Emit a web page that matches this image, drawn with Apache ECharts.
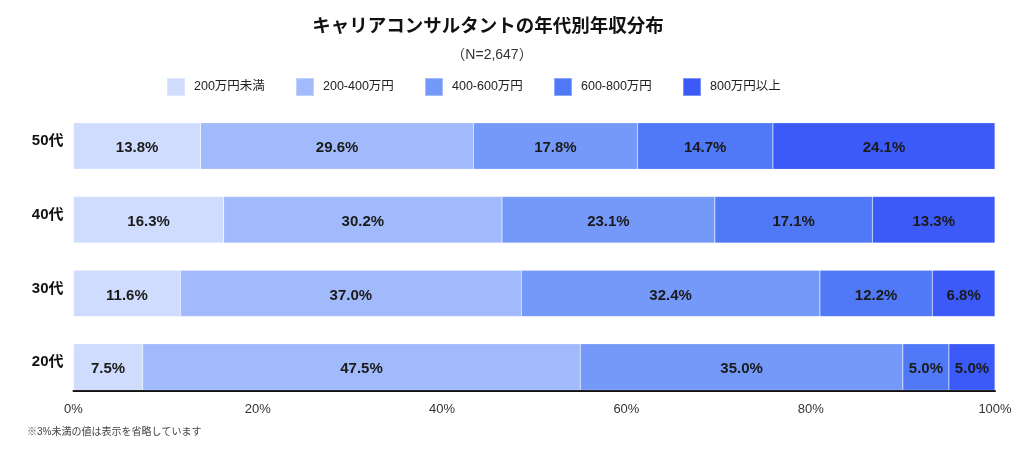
<!DOCTYPE html>
<html>
<head>
<meta charset="utf-8">
<style>
html,body{margin:0;padding:0;background:#fff;}
#chart{width:1024px;height:449px;}
</style>
<script src="https://cdn.jsdelivr.net/npm/echarts@6/dist/echarts.min.js"></script>
</head>
<body>
<div id="chart"></div>
<script>
const categories = ['50代', '40代', '30代', '20代'];
const seriesNames = ['200万円未満', '200-400万円', '400-600万円', '600-800万円', '800万円以上'];
const under200 = [13.8, 16.3, 11.6, 7.5];
const r200to400 = [29.6, 30.2, 37.0, 47.5];
const r400to600 = [17.8, 23.1, 32.4, 35.0];
const r600to800 = [14.7, 17.1, 12.2, 5.0];
const over800 = [24.1, 13.3, 6.8, 5.0];
const xTicks = [0, 20, 40, 60, 80, 100];
const colors = ['#d0dcfd', '#a1bafb', '#7599f9', '#5079f7', '#3b5af8'];

const FONT = '"Liberation Sans", "Noto Sans CJK JP", sans-serif';
const values = [under200, r200to400, r400to600, r600to800, over800];

const chart = echarts.init(document.getElementById('chart'), null, {renderer: 'canvas'});
chart.setOption({
  animation: false,
  textStyle: {fontFamily: FONT},
  title: [
    {
      text: 'キャリアコンサルタントの年代別年収分布',
      left: 483, top: 13, textAlign: 'center',
      textStyle: {fontFamily: FONT, fontSize: 18.5, fontWeight: 'bold', color: '#111'}
    },
    {
      text: '（N=2,647）',
      left: 487, top: 43, textAlign: 'center',
      textStyle: {fontFamily: FONT, fontSize: 14, fontWeight: 'normal', color: '#333'}
    },
    {
      text: '※3%未満の値は表示を省略しています',
      left: 22, top: 422,
      textStyle: {fontFamily: FONT, fontSize: 10, fontWeight: 'normal', color: '#444'}
    }
  ],
  legend: seriesNames.map((name, i) => ({
    left: 161 + i * 129, top: 72,
    icon: 'rect', itemWidth: 18, itemHeight: 18,
    textStyle: {fontFamily: FONT, fontSize: 12.5, color: '#222', padding: [0, 0, 0, 4]},
    data: [name]
  })),
  grid: {left: 73.5, right: 29, top: 109.2, bottom: 45.1},
  xAxis: {
    type: 'value', min: xTicks[0], max: xTicks[xTicks.length - 1], interval: 20,
    offset: -13.4,
    axisLine: {show: true, lineStyle: {color: '#111', width: 2}},
    axisTick: {show: false},
    splitLine: {show: false},
    axisLabel: {formatter: '{value}%', color: '#333', fontSize: 13, margin: 12, fontFamily: FONT}
  },
  yAxis: {
    type: 'category', inverse: true, data: categories,
    axisLine: {show: false}, axisTick: {show: false},
    axisLabel: {color: '#111', fontSize: 15, fontWeight: 'bold', margin: 10,
      verticalAlign: 'bottom', lineHeight: 10, fontFamily: FONT}
  },
  series: seriesNames.map((name, i) => ({
    name: name,
    type: 'bar',
    stack: 'total',
    barWidth: '63%',
    data: values[i],
    itemStyle: {color: colors[i], borderColor: 'rgba(255,255,255,0.35)', borderWidth: 0.5},
    label: {
      show: true, position: 'inside',
      formatter: p => (p.value < 3 ? '' : p.value.toFixed(1) + '%'),
      color: '#1a1a1a', fontSize: 15, fontWeight: 'bold', fontFamily: FONT,
      offset: [0, 2]
    }
  }))
});
</script>
</body>
</html>
